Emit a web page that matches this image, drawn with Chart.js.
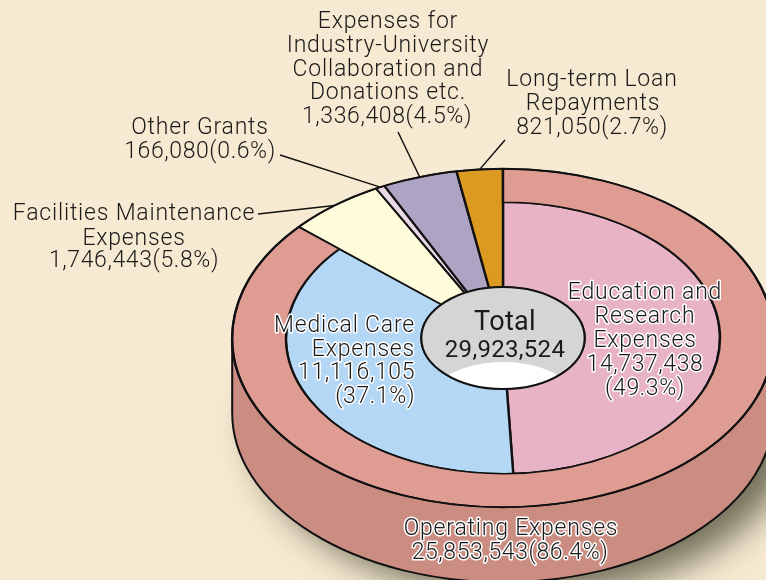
<!DOCTYPE html>
<html><head><meta charset="utf-8">
<style>html,body{margin:0;padding:0;background:#f7ead2;overflow:hidden}canvas{display:block}</style>
<script src="https://cdn.jsdelivr.net/npm/chart.js@4"></script></head>
<body><canvas id="c" width="766" height="580"></canvas>
<script>
const sliceNames = ['Facilities Maintenance Expenses','Other Grants','Expenses for Industry-University Collaboration and Donations etc.','Long-term Loan Repayments'];
const smallValues = [1746443,166080,1336408,821050];
const smallColors = ['#fffcdc','#e9d7e6','#ada3c3','#dc9b20'];
const operatingValue = [25853543];
const operatingColor = ['#de9c92'];
const innerNames = ['Education and Research Expenses','Medical Care Expenses'];
const innerValues = [14737438,11116105];
const innerColors = ['#e8b3c7','#b3d7f5'];
const totalValue = '29,923,524';

const TILT = 0.625, DEPTH = 75, CY = 338, DX = 9, LINE = '#111';
const labels = [
 {t:'Expenses for',x:388,y:21},{t:'Industry-University',x:388,y:45},{t:'Collaboration and',x:388,y:69},{t:'Donations etc.',x:388,y:92},{t:'1,336,408(4.5%)',x:387,y:116,n:1},
 {t:'Long-term Loan',x:592,y:79},{t:'Repayments',x:593,y:103},{t:'821,050(2.7%)',x:592,y:127,n:1},
 {t:'Other Grants',x:200,y:127},{t:'166,080(0.6%)',x:200,y:151,n:1},
 {t:'Facilities Maintenance',x:134,y:213},{t:'Expenses',x:134,y:238},{t:'1,746,443(5.8%)',x:134,y:260,n:1},
 {t:'Education and',x:645,y:292,h:1},{t:'Research',x:645,y:316,h:1},{t:'Expenses',x:645,y:340,h:1},{t:'14,737,438',x:645,y:364,n:1,h:1},{t:'(49.3%)',x:645,y:388,n:1,h:1},
 {t:'Medical Care',x:415,y:325,h:1,r:1},{t:'Expenses',x:415,y:349,h:1,r:1},{t:'11,116,105',x:415,y:372,n:1,h:1,r:1},{t:'(37.1%)',x:415,y:396,n:1,h:1,r:1},
 {t:'Operating Expenses',x:511,y:528,h:1},{t:'25,853,543(86.4%)',x:510,y:552,n:1,h:1},
 {t:'Total',x:505,y:322,big:1},{t:totalValue,x:505,y:349,n:1,tot:1}
];
const leaderEnds = [[258,214],[280,155],[398,132],[505,140]];

function ell(ctx,x,y,rx,ry){ctx.beginPath();ctx.ellipse(x,y,rx,ry,0,0,Math.PI*2);}

const tiltPlugin = {
 id:'tilt',
 afterDatasetsUpdate(chart){
  const outer = chart.getDatasetMeta(0).data, inner = chart.getDatasetMeta(1).data;
  for(let i=innerValues.length;i<inner.length;i++) inner[i].outerRadius = outer[0].outerRadius;
 },
 beforeDatasetsDraw(chart){
  const ctx=chart.ctx, a=chart.getDatasetMeta(0).data[0], R=a.outerRadius, X=a.x+DX;
  ctx.save();
  ctx.save();
  ctx.shadowColor='rgba(70,70,50,0.75)';ctx.shadowBlur=34;ctx.shadowOffsetX=22;ctx.shadowOffsetY=14;
  ctx.fillStyle='#cb8d81';
  ell(ctx,X,CY+DEPTH,R,R*TILT);ctx.fill();
  ctx.restore();
  ctx.fillStyle='#cb8d81';
  ctx.fillRect(X-R,CY,2*R,DEPTH);
  ell(ctx,X,CY+DEPTH,R,R*TILT);ctx.fill();
  ctx.strokeStyle=LINE;ctx.lineWidth=2;
  ctx.beginPath();ctx.moveTo(X-R,CY);ctx.lineTo(X-R,CY+DEPTH);
  ctx.ellipse(X,CY+DEPTH,R,R*TILT,0,Math.PI,0,true);
  ctx.lineTo(X+R,CY);ctx.stroke();
  ctx.translate(DX,CY);ctx.scale(1,TILT);ctx.translate(0,-a.y);
 },
 afterDatasetsDraw(chart){
  const ctx=chart.ctx, a=chart.getDatasetMeta(0).data[0], b=chart.getDatasetMeta(1).data, R=a.outerRadius, X=a.x+DX, r=b[0].innerRadius;
  ctx.restore();
  ctx.strokeStyle=LINE;ctx.lineWidth=2;
  ell(ctx,X,CY,R,R*TILT);ctx.stroke();
  ctx.lineWidth=1.5;
  for(let i=0;i<smallValues.length;i++){
   const e=b[i+innerValues.length], m=(e.startAngle+e.endAngle)/2;
   ctx.beginPath();ctx.moveTo(leaderEnds[i][0],leaderEnds[i][1]);
   ctx.lineTo(X+R*Math.cos(m),CY+R*TILT*Math.sin(m));ctx.stroke();
  }
  ctx.save();
  ell(ctx,X,CY,r,r*TILT);ctx.clip();
  ctx.fillStyle='#d5d5d5';ctx.fillRect(X-r,CY-r,2*r,2*r);
  ctx.fillStyle='#fff';ell(ctx,X,CY+DEPTH,r,r*TILT);ctx.fill();
  ctx.restore();
  ctx.lineWidth=2;ell(ctx,X,CY,r,r*TILT);ctx.stroke();
 },
 afterDraw(chart){
  const ctx=chart.ctx;
  ctx.save();
  ctx.textBaseline='middle';ctx.lineJoin='round';
  for(const l of labels){
   ctx.font = l.big?'400 27px Roboto':l.tot?'400 24px Roboto':'300 23px Roboto';
   ctx.letterSpacing = l.tot?'0.3px':l.n?'0.6px':l.big?'0.3px':'0.8px';
   ctx.textAlign = l.r?'right':'center';
   const y=l.y+1.5;
   if(l.h){ctx.strokeStyle='#fff';ctx.lineWidth=3;ctx.strokeText(l.t,l.x,y);}
   ctx.fillStyle='#1a1a1a';ctx.fillText(l.t,l.x,y);
  }
  ctx.restore();
 }
};

new Chart(document.getElementById('c'),{
 type:'doughnut',
 data:{labels:[...innerNames,...sliceNames],datasets:[
  {data:[...operatingValue,...smallValues],backgroundColor:[...operatingColor,...smallValues.map(()=> 'rgba(0,0,0,0)')],
   borderColor:[LINE,...smallValues.map(()=> 'rgba(0,0,0,0)')],borderWidth:[2.4,0,0,0,0],weight:54,clip:false,hoverOffset:0},
  {data:[...innerValues,...smallValues],backgroundColor:[...innerColors,...smallColors],borderColor:LINE,borderWidth:2.4,weight:136,clip:false,hoverOffset:0}
 ]},
 options:{responsive:false,animation:false,cutout:'30.15%',
  layout:{padding:{left:222,right:0,top:18,bottom:18}},
  plugins:{legend:{display:false},tooltip:{enabled:false}},events:[]},
 plugins:[tiltPlugin]
});
</script></body></html>
